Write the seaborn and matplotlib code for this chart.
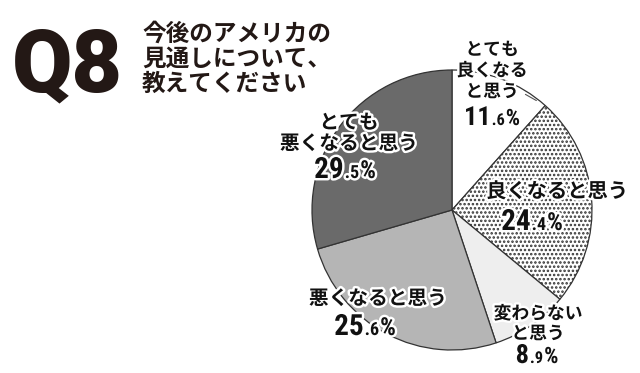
import matplotlib
matplotlib.use("Agg")
import matplotlib.pyplot as plt
import matplotlib.patheffects as pe
import numpy as np
import seaborn as sns

sns.set_theme(style="white")
plt.rcParams['font.family'] = ['Noto Sans CJK JP', 'DejaVu Sans']
plt.rcParams['hatch.linewidth'] = 1.2
plt.rcParams['hatch.color'] = '#222222'

# ---- data ----
categories = ["とても\n良くなる\nと思う", "良くなると思う", "変わらない\nと思う",
              "悪くなると思う", "とても\n悪くなると思う"]
values = [11.6, 24.4, 8.9, 25.6, 29.5]
int_parts = ["11", "24", "8", "25", "29"]
dec_parts = [".6", ".4", ".9", ".6", ".5"]
colors = ["#ffffff", "#ffffff", "#eeeeee", "#b5b5b5", "#6a6a6a"]
hatches = [None, "....", None, None, None]
title_q = "Q8"
title_lines = ["今後のアメリカの", "見通しについて、", "教えてください"]

W, H = 640, 373
fig = plt.figure(figsize=(W / 100, H / 100), dpi=100)
fig.patch.set_facecolor("white")

cx, cy, r = 452, 210, 140
ax = fig.add_axes([(cx - r) / W, (H - cy - r) / H, 2 * r / W, 2 * r / H])
wedges, _ = ax.pie(values, colors=colors, startangle=90, counterclock=False,
                   wedgeprops=dict(edgecolor="#333333", linewidth=0.9))
for w, h in zip(wedges, hatches):
    if h:
        w.set_hatch(h)
ax.set_xlim(-1, 1)
ax.set_ylim(-1, 1)
ax.set_aspect("equal")
ax.axis("off")


def fx(x):
    return x / W


def fy(y):
    return 1 - y / H


stroke = [pe.withStroke(linewidth=3.5, foreground="white")]
num_family = ['Roboto Condensed', 'Liberation Sans Narrow', 'DejaVu Sans']

# Title
fig.text(fx(12), fy(91), title_q, fontsize=63, fontweight="heavy",
         family=['Roboto', 'DejaVu Sans'],
         color="#231815", ha="left", va="baseline")
for i, line in enumerate(title_lines):
    fig.text(fx(142), fy(34 + 25 * i), line, fontsize=17, fontweight="bold",
             color="#231815", ha="left", va="center")

# Labels: (center x, first line center y, line step, fontsize)
label_layout = [
    (492, 50, 21, 12.8),
    (557, 191, 0, 14.6),
    (538, 314, 20, 12.8),
    (378, 299, 0, 14.2),
    (349, 123, 21, 14.2),
]
# Number layout: (center x, baseline y, int size)
num_layout = [
    (492, 125, 19),
    (532, 230, 21),
    (537, 363, 19),
    (365, 335, 21),
    (345, 178, 21),
]

for cat, (lx, ly, step, fs) in zip(categories, label_layout):
    for j, line in enumerate(cat.split("\n")):
        fig.text(fx(lx), fy(ly + step * j), line, fontsize=fs, fontweight="bold",
                 color="#111111", ha="center", va="center", path_effects=stroke)

num_groups = []
for ip, dp, (ncx, by, isz) in zip(int_parts, dec_parts, num_layout):
    kw = dict(fontweight="bold", family=num_family, fontstretch="condensed",
              color="#111111", ha="left", va="baseline", path_effects=stroke)
    t1 = fig.text(0, fy(by), ip, fontsize=isz, **kw)
    t2 = fig.text(0, fy(by), dp, fontsize=isz * 0.62, **kw)
    t3 = fig.text(0, fy(by), "%", fontsize=isz * 0.85, **kw)
    num_groups.append((ncx, [t1, t2, t3]))

fig.canvas.draw()
renderer = fig.canvas.get_renderer()
gap = 1.0
for ncx, texts in num_groups:
    widths = [t.get_window_extent(renderer).width for t in texts]
    total = sum(widths) + gap * (len(texts) - 1)
    x = ncx - total / 2
    for t, wdt in zip(texts, widths):
        t.set_x(fx(x))
        x += wdt + gap

# Leader line for the first slice
w0 = wedges[0]
ang = np.deg2rad(w0.theta1 + 3)
ax.annotate("", xy=(0.99 * np.cos(ang), 0.99 * np.sin(ang)), xycoords="data",
            xytext=(fx(523), fy(93)), textcoords="figure fraction",
            arrowprops=dict(arrowstyle="-", color="#555555", lw=0.8))

fig.savefig("out.png", dpi=100, facecolor="white")
